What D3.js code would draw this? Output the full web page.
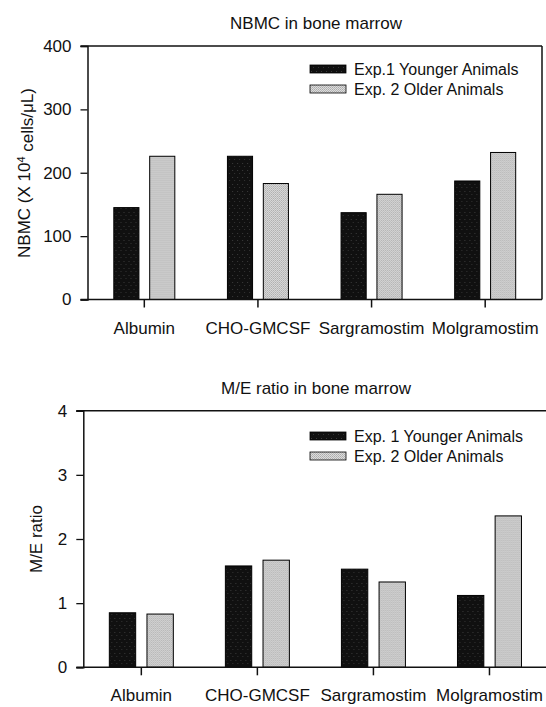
<!DOCTYPE html>
<html>
<head>
<meta charset="utf-8">
<script src="https://cdn.jsdelivr.net/npm/d3@7"></script>
<style>
  body { margin: 0; background: #fff; }
  text { font-family: "Liberation Sans", Arial, sans-serif; fill: #111; }
</style>
</head>
<body>
<div class="chart"></div>
<script>
// chart data
var categories = ["Albumin", "CHO-GMCSF", "Sargramostim", "Molgramostim"];
var nbmcYoung = [145, 226, 137, 187];
var nbmcOld = [226, 183, 166, 232];
var meYoung = [0.85, 1.58, 1.53, 1.12];
var meOld = [0.83, 1.67, 1.33, 2.36];
var nbmcTicks = [0, 100, 200, 300, 400];
var meTicks = [0, 1, 2, 3, 4];
var legendTop = ["Exp.1 Younger Animals", "Exp. 2 Older Animals"];
var legendBottom = ["Exp. 1 Younger Animals", "Exp. 2 Older Animals"];

var svgWidth = 546;
var svgHeight = 707;

var svg = d3.select(".chart")
    .append("svg")
    .attr("width", svgWidth)
    .attr("height", svgHeight);

//dither patterns for the bar fills
var defs = svg.append("defs");
var grey = defs.append("pattern")
    .attr("id", "greyFill")
    .attr("width", 2).attr("height", 2)
    .attr("patternUnits", "userSpaceOnUse");
grey.append("rect").attr("width", 2).attr("height", 2).attr("fill", "#dcdcdc");
grey.append("rect").attr("width", 1).attr("height", 1).attr("fill", "#ababab");
grey.append("rect").attr("x", 1).attr("y", 1).attr("width", 1).attr("height", 1).attr("fill", "#b8b8b8");

var dark = defs.append("pattern")
    .attr("id", "darkFill")
    .attr("width", 5).attr("height", 7)
    .attr("patternUnits", "userSpaceOnUse");
dark.append("rect").attr("width", 5).attr("height", 7).attr("fill", "#101010");
dark.append("rect").attr("x", 1).attr("y", 2).attr("width", 1).attr("height", 1).attr("fill", "#3a3a3a");
dark.append("rect").attr("x", 3).attr("y", 5).attr("width", 1).attr("height", 1).attr("fill", "#333");

var fills = ["url(#darkFill)", "url(#greyFill)"];

function drawPanel(p) {
    var g = svg.append("g");

    var rows = categories.map(function(c, i) {
        return { cat: c, vals: [p.young[i], p.old[i]] };
    });

    //Scales
    var xScale = d3.scaleBand()
        .domain(categories)
        .range([p.left, p.right])
        .padding(0);

    var bw = xScale.bandwidth();
    var xSub = d3.scaleBand()
        .domain([0, 1])
        .range([bw / 2 - p.half, bw / 2 + p.half])
        .paddingInner(0.3);

    var yScale = d3.scaleLinear()
        .domain([p.ticks[0], p.ticks[p.ticks.length - 1]])
        .range([p.bottom, p.top]);

    //Bars
    var groups = g.selectAll("g.cat")
        .data(rows)
        .enter()
        .append("g")
        .attr("transform", d => `translate(${xScale(d.cat)},0)`);

    groups.selectAll("rect")
        .data(d => d.vals.map((v, k) => ({ k: k, v: v })))
        .enter()
        .append("rect")
        .attr("x", d => xSub(d.k))
        .attr("y", d => yScale(d.v))
        .attr("width", xSub.bandwidth())
        .attr("height", d => yScale(0) - yScale(d.v))
        .attr("fill", d => fills[d.k])
        .attr("stroke", "#000")
        .attr("stroke-width", 1);

    //Frame lines
    g.append("line")
        .attr("x1", p.left - 7).attr("x2", p.frameRight)
        .attr("y1", p.top).attr("y2", p.top)
        .attr("stroke", "#111").attr("stroke-width", 1.5);
    if (p.rightBorder) {
        g.append("line")
            .attr("x1", p.frameRight).attr("x2", p.frameRight)
            .attr("y1", p.top).attr("y2", p.bottom)
            .attr("stroke", "#111").attr("stroke-width", 1.5);
    }

    //Axes
    var leftAxis = d3.axisLeft(yScale)
        .tickValues(p.ticks)
        .tickSize(7)
        .tickPadding(9)
        .tickFormat(d3.format("d"));
    var yAxisG = g.append("g")
        .attr("transform", `translate(${p.left},0)`)
        .call(leftAxis);
    yAxisG.select(".domain").attr("stroke", "#111").attr("stroke-width", 1.5);
    yAxisG.selectAll(".tick line").attr("stroke", "#111").attr("stroke-width", 1.3);
    yAxisG.selectAll(".tick text")
        .attr("font-size", "17px")
        .attr("font-family", "Liberation Sans, Arial, sans-serif")
        .attr("fill", "#111");

    var bottomAxis = d3.axisBottom(xScale)
        .tickSize(8)
        .tickPadding(14)
        .tickSizeOuter(0);
    var xAxisG = g.append("g")
        .attr("transform", `translate(0,${p.bottom})`)
        .call(bottomAxis);
    xAxisG.select(".domain")
        .attr("d", `M${p.left - 7},0H${p.frameRight}`)
        .attr("stroke", "#111").attr("stroke-width", 1.5);
    xAxisG.selectAll(".tick line").attr("stroke", "#111").attr("stroke-width", 1.5);
    xAxisG.selectAll(".tick text")
        .attr("font-size", "17px")
        .attr("font-family", "Liberation Sans, Arial, sans-serif")
        .attr("fill", "#111");

    //Title
    g.append("text")
        .attr("x", p.titleX)
        .attr("y", p.titleY)
        .attr("text-anchor", "middle")
        .attr("font-size", "17px")
        .text(p.title);

    //y axis label
    var yl = g.append("text")
        .attr("transform", `translate(${p.ylabX},${p.ylabY}) rotate(-90)`)
        .attr("text-anchor", "middle")
        .attr("font-size", "17px");
    p.ylabel(yl);

    //Legend
    var leg = g.selectAll("g.leg")
        .data(p.legend)
        .enter()
        .append("g")
        .attr("transform", (d, i) => `translate(${p.legX},${p.legY + i * 20})`);
    leg.append("rect")
        .attr("x", 0).attr("y", -4)
        .attr("width", 36).attr("height", 8)
        .attr("fill", (d, i) => fills[i])
        .attr("stroke", "#000").attr("stroke-width", 0.8);
    leg.append("text")
        .attr("x", 44)
        .attr("dy", "0.35em")
        .attr("font-size", "16px")
        .text(d => d);
}

drawPanel({
    young: nbmcYoung, old: nbmcOld, ticks: nbmcTicks,
    left: 87.5, right: 542, frameRight: 542, rightBorder: true,
    top: 46, bottom: 299.5, half: 30.5,
    title: "NBMC in bone marrow", titleX: 316, titleY: 29,
    ylabX: 30, ylabY: 173,
    ylabel: function(t) {
        t.append("tspan").text("NBMC (X 10");
        t.append("tspan").attr("dy", "-0.45em").attr("font-size", "11px").text("4");
        t.append("tspan").attr("dy", "0.45em").text(" cells/\u03bcL)");
    },
    legend: legendTop, legX: 310, legY: 69
});

drawPanel({
    young: meYoung, old: meOld, ticks: meTicks,
    left: 83.3, right: 547.5, frameRight: 546, rightBorder: false,
    top: 410.7, bottom: 667.3, half: 32,
    title: "M/E ratio in bone marrow", titleX: 316, titleY: 394,
    ylabX: 42, ylabY: 539,
    ylabel: function(t) { t.text("M/E ratio"); },
    legend: legendBottom, legX: 310, legY: 436
});
</script>
</body>
</html>
